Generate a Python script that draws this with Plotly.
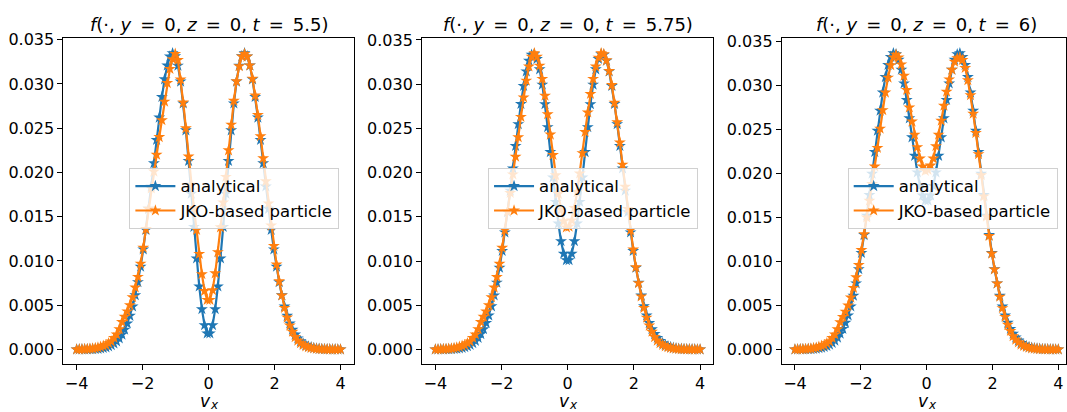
import numpy as np
import plotly.graph_objects as go

# velocity grid along v_x
vx = np.linspace(-4, 4, 100)

# t = 5.5
analytical_t55 = [
    0.0, 0.0, 0.00001, 0.00001, 0.00001, 0.00002, 0.00003, 0.00005, 0.00007, 0.00011,
    0.00016, 0.00024, 0.00034, 0.00048, 0.00067, 0.00092, 0.00125, 0.00168, 0.00223, 0.00293,
    0.00380, 0.00485, 0.00612, 0.00761, 0.00935, 0.01131, 0.01350, 0.01589, 0.01842, 0.02104,
    0.02367, 0.02620, 0.02852, 0.03052, 0.03208, 0.03309, 0.03347, 0.03313, 0.03207, 0.03027,
    0.02780, 0.02476, 0.02129, 0.01759, 0.01385, 0.01028, 0.00712, 0.00455, 0.00274, 0.00181,
    0.00181, 0.00274, 0.00455, 0.00712, 0.01028, 0.01385, 0.01759, 0.02129, 0.02476, 0.02780,
    0.03027, 0.03207, 0.03313, 0.03347, 0.03309, 0.03208, 0.03052, 0.02852, 0.02620, 0.02367,
    0.02104, 0.01842, 0.01589, 0.01350, 0.01131, 0.00935, 0.00761, 0.00612, 0.00485, 0.00380,
    0.00293, 0.00223, 0.00168, 0.00125, 0.00092, 0.00067, 0.00048, 0.00034, 0.00024, 0.00016,
    0.00011, 0.00007, 0.00005, 0.00003, 0.00002, 0.00001, 0.00001, 0.00001, 0.0, 0.0,
]
jko_t55 = [
    0.0, 0.00001, 0.00002, 0.00003, 0.00005, 0.00007, 0.00010, 0.00015, 0.00020, 0.00030,
    0.00040, 0.00050, 0.00070, 0.00090, 0.00130, 0.00170, 0.00230, 0.00310, 0.00370, 0.00430,
    0.00500, 0.00590, 0.00700, 0.00820, 0.00970, 0.01150, 0.01360, 0.01590, 0.01820, 0.02010,
    0.02200, 0.02400, 0.02590, 0.02800, 0.03010, 0.03170, 0.03280, 0.03340, 0.03270, 0.03050,
    0.02790, 0.02500, 0.02180, 0.01860, 0.01600, 0.01350, 0.01080, 0.00850, 0.00660, 0.00560,
    0.00560, 0.00670, 0.00860, 0.01100, 0.01380, 0.01660, 0.01950, 0.02250, 0.02540, 0.02810,
    0.03030, 0.03200, 0.03310, 0.03340, 0.03310, 0.03210, 0.03060, 0.02870, 0.02650, 0.02410,
    0.02160, 0.01900, 0.01650, 0.01400, 0.01170, 0.00960, 0.00770, 0.00610, 0.00470, 0.00360,
    0.00270, 0.00200, 0.00140, 0.00100, 0.00070, 0.00050, 0.00035, 0.00025, 0.00018, 0.00012,
    0.00008, 0.00005, 0.00003, 0.00002, 0.00001, 0.00001, 0.0, 0.0, 0.0, 0.0,
]

# t = 5.75
analytical_t575 = [
    0.0, 0.0, 0.00001, 0.00001, 0.00002, 0.00002, 0.00004, 0.00006, 0.00008, 0.00012,
    0.00018, 0.00026, 0.00036, 0.00051, 0.00071, 0.00096, 0.00130, 0.00174, 0.00229, 0.00299,
    0.00384, 0.00488, 0.00611, 0.00756, 0.00924, 0.01114, 0.01324, 0.01553, 0.01796, 0.02048,
    0.02301, 0.02548, 0.02776, 0.02980, 0.03145, 0.03266, 0.03333, 0.03340, 0.03285, 0.03168,
    0.02995, 0.02773, 0.02514, 0.02232, 0.01945, 0.01669, 0.01424, 0.01224, 0.01083, 0.01010,
    0.01010, 0.01083, 0.01224, 0.01424, 0.01669, 0.01945, 0.02232, 0.02514, 0.02773, 0.02995,
    0.03168, 0.03285, 0.03340, 0.03333, 0.03266, 0.03145, 0.02980, 0.02776, 0.02548, 0.02301,
    0.02048, 0.01796, 0.01553, 0.01324, 0.01114, 0.00924, 0.00756, 0.00611, 0.00488, 0.00384,
    0.00299, 0.00229, 0.00174, 0.00130, 0.00096, 0.00071, 0.00051, 0.00036, 0.00026, 0.00018,
    0.00012, 0.00008, 0.00006, 0.00004, 0.00002, 0.00002, 0.00001, 0.00001, 0.0, 0.0,
]
jko_t575 = [
    0.0, 0.00001, 0.00002, 0.00003, 0.00005, 0.00007, 0.00010, 0.00015, 0.00020, 0.00030,
    0.00040, 0.00050, 0.00070, 0.00090, 0.00130, 0.00170, 0.00230, 0.00310, 0.00370, 0.00430,
    0.00500, 0.00590, 0.00700, 0.00820, 0.00970, 0.01150, 0.01350, 0.01560, 0.01770, 0.01980,
    0.02180, 0.02400, 0.02630, 0.02850, 0.03040, 0.03200, 0.03310, 0.03350, 0.03310, 0.03210,
    0.03060, 0.02870, 0.02660, 0.02430, 0.02200, 0.01970, 0.01760, 0.01580, 0.01450, 0.01380,
    0.01390, 0.01460, 0.01600, 0.01780, 0.01990, 0.02220, 0.02460, 0.02680, 0.02890, 0.03060,
    0.03200, 0.03300, 0.03350, 0.03340, 0.03270, 0.03150, 0.02990, 0.02790, 0.02570, 0.02340,
    0.02090, 0.01840, 0.01590, 0.01350, 0.01130, 0.00930, 0.00750, 0.00600, 0.00470, 0.00360,
    0.00270, 0.00200, 0.00140, 0.00100, 0.00070, 0.00050, 0.00035, 0.00025, 0.00018, 0.00012,
    0.00008, 0.00005, 0.00003, 0.00002, 0.00001, 0.00001, 0.0, 0.0, 0.0, 0.0,
]

# t = 6
analytical_t6 = [
    0.0, 0.0, 0.00001, 0.00001, 0.00002, 0.00003, 0.00004, 0.00006, 0.00009, 0.00014,
    0.00019, 0.00028, 0.00039, 0.00054, 0.00074, 0.00101, 0.00135, 0.00179, 0.00234, 0.00303,
    0.00387, 0.00489, 0.00610, 0.00751, 0.00913, 0.01096, 0.01300, 0.01521, 0.01755, 0.01998,
    0.02244, 0.02486, 0.02714, 0.02920, 0.03096, 0.03233, 0.03325, 0.03367, 0.03356, 0.03292,
    0.03180, 0.03024, 0.02836, 0.02627, 0.02411, 0.02201, 0.02013, 0.01859, 0.01750, 0.01693,
    0.01693, 0.01750, 0.01859, 0.02013, 0.02201, 0.02411, 0.02627, 0.02836, 0.03024, 0.03180,
    0.03292, 0.03356, 0.03367, 0.03325, 0.03233, 0.03096, 0.02920, 0.02714, 0.02486, 0.02244,
    0.01998, 0.01755, 0.01521, 0.01300, 0.01096, 0.00913, 0.00751, 0.00610, 0.00489, 0.00387,
    0.00303, 0.00234, 0.00179, 0.00135, 0.00101, 0.00074, 0.00054, 0.00039, 0.00028, 0.00019,
    0.00014, 0.00009, 0.00006, 0.00004, 0.00003, 0.00002, 0.00001, 0.00001, 0.0, 0.0,
]
jko_t6 = [
    0.0, 0.00001, 0.00002, 0.00003, 0.00005, 0.00007, 0.00010, 0.00015, 0.00020, 0.00030,
    0.00040, 0.00050, 0.00070, 0.00090, 0.00130, 0.00170, 0.00230, 0.00310, 0.00370, 0.00430,
    0.00500, 0.00590, 0.00700, 0.00820, 0.00960, 0.01130, 0.01310, 0.01500, 0.01690, 0.01880,
    0.02080, 0.02290, 0.02510, 0.02720, 0.02920, 0.03090, 0.03230, 0.03320, 0.03350, 0.03320,
    0.03240, 0.03110, 0.02950, 0.02750, 0.02590, 0.02440, 0.02300, 0.02170, 0.02080, 0.02030,
    0.02040, 0.02090, 0.02170, 0.02310, 0.02440, 0.02600, 0.02770, 0.02930, 0.03070, 0.03180,
    0.03270, 0.03310, 0.03320, 0.03290, 0.03200, 0.03060, 0.02890, 0.02680, 0.02460, 0.02220,
    0.01980, 0.01740, 0.01510, 0.01290, 0.01090, 0.00910, 0.00750, 0.00600, 0.00470, 0.00370,
    0.00280, 0.00210, 0.00150, 0.00110, 0.00080, 0.00055, 0.00040, 0.00028, 0.00020, 0.00013,
    0.00009, 0.00006, 0.00004, 0.00002, 0.00001, 0.00001, 0.0, 0.0, 0.0, 0.0,
]

times = ["5.5", "5.75", "6"]
analytical = [analytical_t55, analytical_t575, analytical_t6]
jko = [jko_t55, jko_t575, jko_t6]
series_names = ["analytical", "JKO-based particle"]
yticks = [0.0, 0.005, 0.01, 0.015, 0.02, 0.025, 0.03, 0.035]
xticks = [-4, -2, 0, 2, 4]

BLUE = "#1f77b4"
ORANGE = "#ff7f0e"
FONT = "DejaVu Sans"
W, H = 1067, 412
EQ = "\u2002=\u2002"  # spaced equals sign

# panel geometry in pixels (left, right), shared top/bottom
panel_px = [(63.5, 354.0), (422.5, 714.0), (782.5, 1067.0)]
x_ranges = [[-4.4, 4.4], [-4.4, 4.4], [-4.4, 4.233]]
top_px, bottom_px = 31.0, 363.3
ydom = [(H - bottom_px) / H, (H - top_px) / H]

fig = go.Figure()
layout = dict(
    width=W, height=H,
    margin=dict(l=0, r=0, t=0, b=0),
    paper_bgcolor="white", plot_bgcolor="white",
    font=dict(family=FONT, size=16, color="black"),
    annotations=[],
)


def text_note(text, x_px, y_px, size, xanchor="center"):
    return dict(
        text=text, x=x_px / W, y=(H - y_px) / H, xref="paper", yref="paper",
        xanchor=xanchor, yanchor="middle", showarrow=False,
        font=dict(family=FONT, size=size, color="black"),
    )


for k in range(3):
    sfx = "" if k == 0 else str(k + 1)
    xa, ya = "x" + sfx, "y" + sfx
    leg = "legend" + sfx
    for j, (vals, col) in enumerate([(analytical[k], BLUE), (jko[k], ORANGE)]):
        fig.add_trace(go.Scatter(
            x=vx, y=vals, name=series_names[j], mode="lines+markers",
            line=dict(color=col, width=2.2),
            marker=dict(symbol="star", size=9, color=col, line=dict(width=0)),
            xaxis=xa, yaxis=ya, legend=leg, showlegend=True,
        ))

    ymax = max(max(analytical[k]), max(jko[k]))
    pad = 0.05 * ymax
    l_px, r_px = panel_px[k]
    layout["xaxis" + sfx] = dict(
        domain=[l_px / W, r_px / W], anchor=ya, range=x_ranges[k],
        tickvals=xticks, ticks="outside", ticklen=5, tickwidth=1, tickcolor="black",
        showline=True, mirror=True, linecolor="black", linewidth=1,
        showgrid=False, zeroline=False, tickfont=dict(size=16),
    )
    layout["yaxis" + sfx] = dict(
        domain=ydom, anchor=xa, range=[-pad, ymax + pad],
        tickvals=yticks, tickformat=".3f", ticks="outside", ticklen=5, tickwidth=1,
        tickcolor="black", showline=True, mirror=True, linecolor="black", linewidth=1,
        showgrid=False, zeroline=False, tickfont=dict(size=16),
    )
    layout[leg] = dict(
        x=(l_px + 66) / W, y=(H - 163) / H, xanchor="left", yanchor="top",
        bgcolor="rgba(255,255,255,0.8)", bordercolor="#d0d0d0", borderwidth=1,
        font=dict(family=FONT, size=16.5, color="black"), tracegroupgap=0,
        itemwidth=40,
    )
    cx = (l_px + (r_px if k < 2 else 1073.0)) / 2
    title = (f"<i>f</i>(·, <i>y</i>{EQ}0, <i>z</i>{EQ}0, "
             f"<i>t</i>{EQ}{times[k]})")
    layout["annotations"].append(text_note(title, cx, 17, 18))
    # axis label v_x: italic v with a lowered small x
    layout["annotations"].append(text_note("<i>v</i>", cx - 3, 401, 17))
    layout["annotations"].append(text_note("<i>x</i>", cx - 1, 405, 12, xanchor="left"))

fig.update_layout(**layout)
fig.write_html("out.html")
